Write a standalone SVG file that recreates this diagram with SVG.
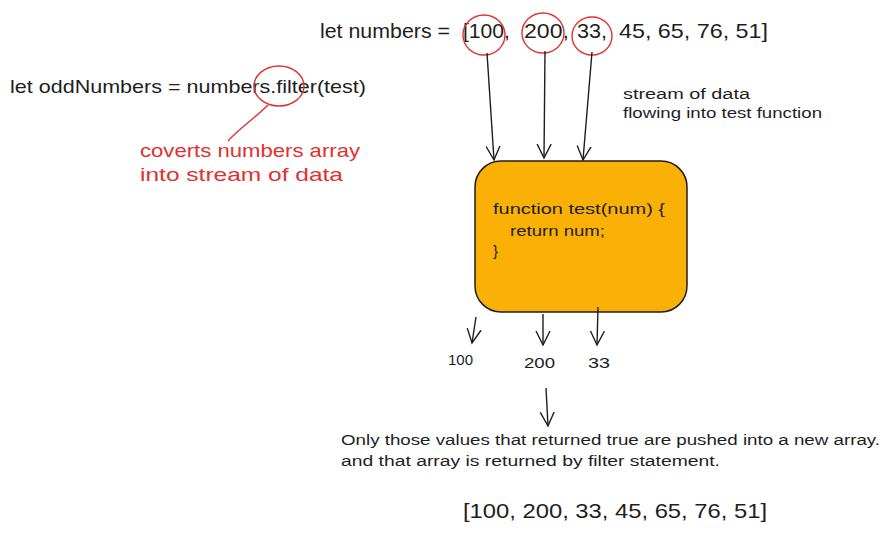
<svg xmlns="http://www.w3.org/2000/svg" width="890" height="533" viewBox="0 0 890 533">
<style>
text{font-family:"Liberation Sans","DejaVu Sans",sans-serif;fill:#1e1e1e}
.red{fill:#e03131}
.circ{fill:none;stroke:#e03131;stroke-width:1.4}
.arr{fill:none;stroke:#1e1e1e;stroke-width:1.4;marker-end:url(#ah)}
.top{font-size:21px}
</style>
<defs>
<marker id="ah" viewBox="0 0 20 20" refX="14" refY="10" markerWidth="20" markerHeight="20" markerUnits="userSpaceOnUse" orient="auto">
<path d="M0,3 L14,10 L0,17" fill="none" stroke="#1e1e1e" stroke-width="1.4"/>
</marker>
</defs>
<rect width="890" height="533" fill="#ffffff"/>
<g id="numbers">
<text class="top" x="320" y="38" textLength="130" lengthAdjust="spacingAndGlyphs">let numbers =</text>
<text class="top" x="463" y="38" textLength="47" lengthAdjust="spacingAndGlyphs">[100,</text>
<text class="top" x="524" y="38" textLength="45" lengthAdjust="spacingAndGlyphs">200,</text>
<text class="top" x="577" y="38" textLength="30" lengthAdjust="spacingAndGlyphs">33,</text>
<text class="top" x="619" y="38" textLength="149" lengthAdjust="spacingAndGlyphs">45, 65, 76, 51]</text>
<ellipse class="circ" cx="484" cy="35" rx="21" ry="20"/>
<ellipse class="circ" cx="543" cy="33" rx="21" ry="20"/>
<ellipse class="circ" cx="592" cy="36" rx="20" ry="19"/>
</g>
<g id="oddNumbers">
<text x="10" y="93" font-size="19" textLength="356" lengthAdjust="spacingAndGlyphs">let oddNumbers = numbers.filter(test)</text>
<ellipse class="circ" cx="279" cy="86" rx="25" ry="20"/>
</g>
<g id="note">
<text class="red" x="140" y="157" font-size="19" textLength="220" lengthAdjust="spacingAndGlyphs">coverts numbers array</text>
<text class="red" x="140" y="181" font-size="19" textLength="203" lengthAdjust="spacingAndGlyphs">into stream of data</text>
</g>
<g id="stream-label">
<text x="623" y="99" font-size="14" textLength="127" lengthAdjust="spacingAndGlyphs">stream of data</text>
<text x="623" y="118" font-size="14" textLength="199" lengthAdjust="spacingAndGlyphs">flowing into test function</text>
</g>
<g id="test-function">
<rect x="475" y="161" width="212" height="151" rx="26" ry="26" fill="#fab005" stroke="#1e1e1e" stroke-width="1.5"/>
<text x="493" y="214" font-size="15" textLength="172" lengthAdjust="spacingAndGlyphs">function test(num) {</text>
<text x="510" y="236" font-size="15" textLength="95" lengthAdjust="spacingAndGlyphs">return num;</text>
<text x="493" y="256" font-size="15">}</text>
</g>
<g id="out-100"><text x="448" y="365" font-size="14" textLength="25" lengthAdjust="spacingAndGlyphs">100</text></g>
<g id="out-200"><text x="524" y="368" font-size="14" textLength="31" lengthAdjust="spacingAndGlyphs">200</text></g>
<g id="out-33"><text x="588" y="368" font-size="14" textLength="22" lengthAdjust="spacingAndGlyphs">33</text></g>
<g id="result-text">
<text x="341" y="445" font-size="14" textLength="539" lengthAdjust="spacingAndGlyphs">Only those values that returned true are pushed into a new array.</text>
<text x="341" y="466" font-size="14" textLength="379" lengthAdjust="spacingAndGlyphs">and that array is returned by filter statement.</text>
</g>
<g id="result-array">
<text x="463" y="518" font-size="21" textLength="304" lengthAdjust="spacingAndGlyphs">[100, 200, 33, 45, 65, 76, 51]</text>
</g>
<g id="connectors">
<path class="circ" d="M268,105 C255,118 240,128 228,141"/>
<path class="arr" d="M487,53 L494,160"/>
<path class="arr" d="M545,51 L544,158"/>
<path class="arr" d="M592,52 L583,160"/>
<path class="arr" d="M476,317 L472,343"/>
<path class="arr" d="M543,314 L543,345"/>
<path class="arr" d="M598,307 L597,345"/>
<path class="arr" d="M546,388 L548,426"/>
</g>
</svg>
